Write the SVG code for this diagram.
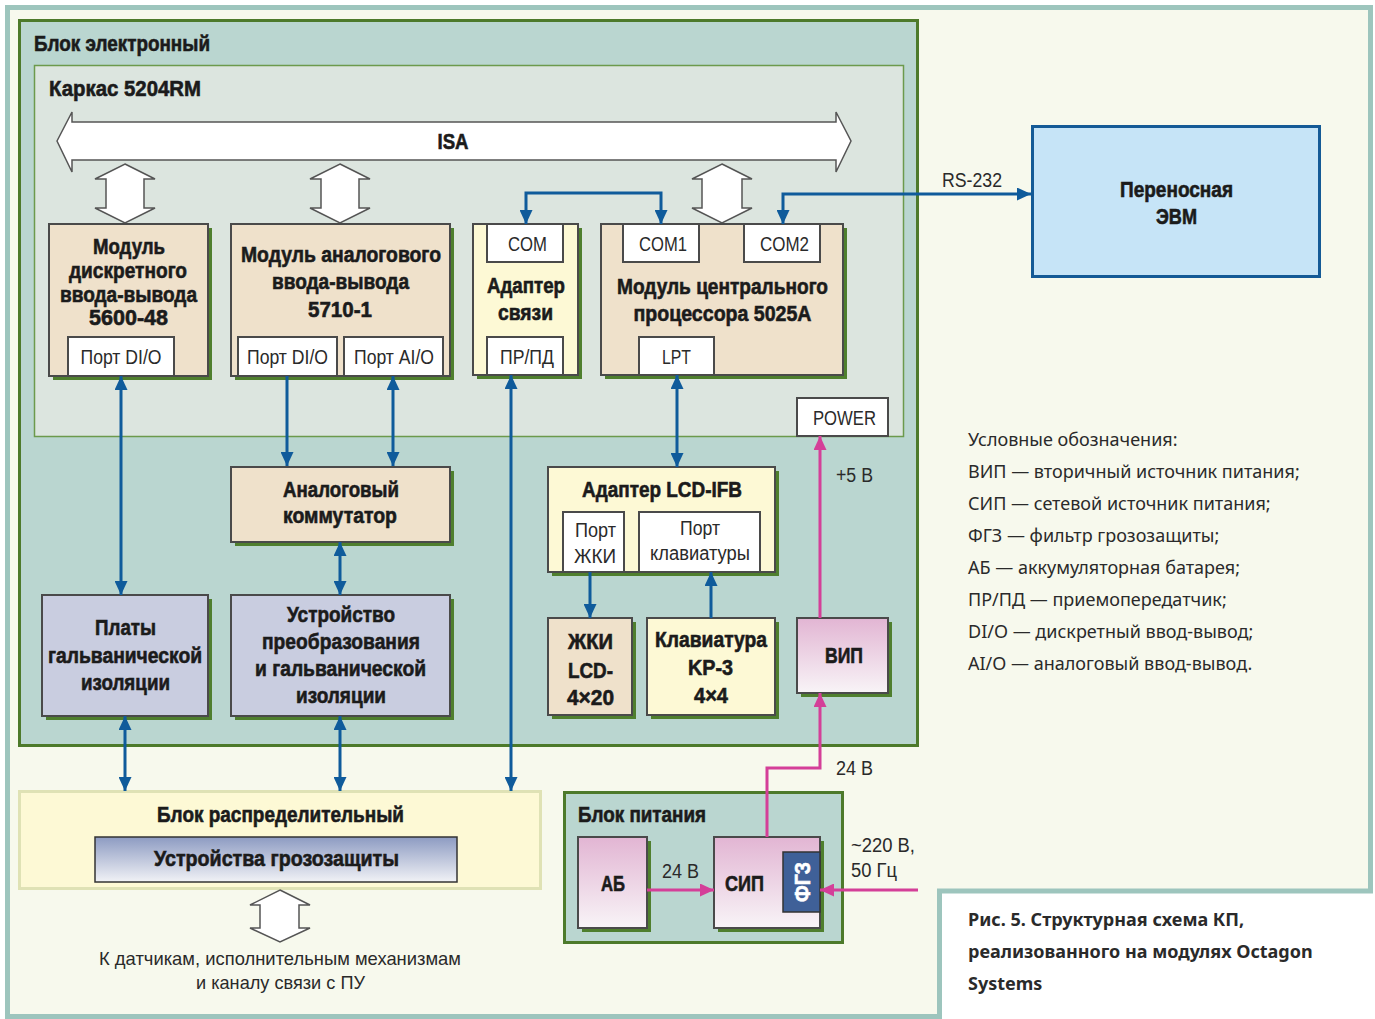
<svg xmlns="http://www.w3.org/2000/svg" width="1375" height="1019" viewBox="0 0 1375 1019">
  <defs>
    <style>
      .b { font-family: "Liberation Sans", "Arimo", sans-serif; font-weight: bold; font-size: 22px; fill: #1b1b1b; stroke: #1b1b1b; stroke-width: 0.6; text-anchor: middle; }
      .bl { text-anchor: start; }
      .r { font-family: "Liberation Sans", "Arimo", sans-serif; font-size: 20px; fill: #2a2a2a; text-anchor: middle; }
      .rl { text-anchor: start; }
      .lg { font-family: "Noto Sans", "Open Sans", sans-serif; font-size: 18px; fill: #2a2a2a; }
      .cap { font-family: "Noto Sans", "Open Sans", sans-serif; font-size: 18px; font-weight: bold; fill: #2a2a2a; }
      .sh { fill: #4f7f2e; }
      .box { stroke: #4a4a4a; stroke-width: 2; }
      .beige { fill: #efe1cb; }
      .yel { fill: #fdf9d5; }
      .lav { fill: #c9cde0; }
      .port { fill: #ffffff; stroke: #4a4a4a; stroke-width: 2; }
      .big { fill: #ffffff; stroke: #555555; stroke-width: 1.5; stroke-linejoin: miter; }
      .blue { fill: none; stroke: #0f5b9b; stroke-width: 3; }
      .mag { fill: none; stroke: #d43f98; stroke-width: 3; }
    </style>
    <marker id="ab" viewBox="0 0 14 13" refX="14" refY="6.5" markerWidth="14" markerHeight="13" markerUnits="userSpaceOnUse" orient="auto-start-reverse">
      <path d="M0,0 L14,6.5 L0,13 z" fill="#0f5b9b"/>
    </marker>
    <marker id="am" viewBox="0 0 14 13" refX="14" refY="6.5" markerWidth="14" markerHeight="13" markerUnits="userSpaceOnUse" orient="auto-start-reverse">
      <path d="M0,0 L14,6.5 L0,13 z" fill="#d43f98"/>
    </marker>
    <linearGradient id="pink" x1="0" y1="0" x2="0" y2="1">
      <stop offset="0" stop-color="#e2b5d3"/>
      <stop offset="1" stop-color="#f8f4f7"/>
    </linearGradient>
    <linearGradient id="steel" x1="0" y1="0" x2="0" y2="1">
      <stop offset="0" stop-color="#8d9bc2"/>
      <stop offset="1" stop-color="#f1f2f6"/>
    </linearGradient>
  </defs>

  <!-- page frame -->
  <rect width="1375" height="1019" fill="#ffffff"/>
  <path d="M7.5,7.5 H1370.5 V891 H939.5 V1016.5 H7.5 Z" fill="#f7f9ed" stroke="#9dc5bd" stroke-width="5"/>

  <!-- electronic unit -->
  <g id="blok-elektronnyj">
    <rect x="19.5" y="20.5" width="898" height="725" fill="#bad6d0" stroke="#4d7a2b" stroke-width="3"/>
    <text class="b bl" x="34" y="51" textLength="176" lengthAdjust="spacingAndGlyphs">Блок электронный</text>
  </g>

  <g id="karkas">
    <rect x="34.5" y="65.5" width="869" height="371" fill="#dce5df" stroke="#6c9a4c" stroke-width="1.5"/>
    <text class="b bl" x="49" y="96" textLength="152" lengthAdjust="spacingAndGlyphs">Каркас 5204RM</text>
  </g>

  <!-- ISA bus -->
  <g id="isa">
    <polygon class="big" points="57,141 72,112 72,122 836,122 836,112 851,141 836,172 836,160 72,160 72,172"/>
    <text class="b" x="453" y="149" textLength="31" lengthAdjust="spacingAndGlyphs">ISA</text>
  </g>

  <!-- bus taps -->
  <g id="bus-taps">
    <polygon class="big" points="125,164 155,179 144,179 144,208 155,208 125,223 95,208 106,208 106,179 95,179"/>
    <polygon class="big" points="340,164 370,179 359,179 359,208 370,208 340,223 310,208 321,208 321,179 310,179"/>
    <polygon class="big" points="722,164 752,179 742,179 742,208 752,208 722,223 692,208 702,208 702,179 692,179"/>
  </g>

  <!-- discrete I/O module -->
  <g id="mod-discrete">
    <rect class="sh" x="53" y="228" width="159" height="152"/>
    <rect class="box beige" x="49" y="224" width="159" height="152"/>
    <text class="b" x="129" y="254" textLength="72" lengthAdjust="spacingAndGlyphs">Модуль</text>
    <text class="b" x="128" y="278" textLength="118" lengthAdjust="spacingAndGlyphs">дискретного</text>
    <text class="b" x="128.5" y="302" textLength="137" lengthAdjust="spacingAndGlyphs">ввода-вывода</text>
    <text class="b" x="128.5" y="325" textLength="79" lengthAdjust="spacingAndGlyphs">5600-48</text>
    <rect class="port" x="68" y="337" width="106" height="39"/>
    <text class="r" x="121" y="364" textLength="81" lengthAdjust="spacingAndGlyphs">Порт DI/O</text>
  </g>

  <!-- analog I/O module -->
  <g id="mod-analog">
    <rect class="sh" x="235" y="228" width="219" height="152"/>
    <rect class="box beige" x="231" y="224" width="219" height="152"/>
    <text class="b" x="341" y="262" textLength="200" lengthAdjust="spacingAndGlyphs">Модуль аналогового</text>
    <text class="b" x="340.5" y="289" textLength="137" lengthAdjust="spacingAndGlyphs">ввода-вывода</text>
    <text class="b" x="340" y="317" textLength="64" lengthAdjust="spacingAndGlyphs">5710-1</text>
    <rect class="port" x="238" y="337" width="99" height="39"/>
    <text class="r" x="287.5" y="364" textLength="81" lengthAdjust="spacingAndGlyphs">Порт DI/O</text>
    <rect class="port" x="344" y="337" width="99" height="39"/>
    <text class="r" x="394" y="364" textLength="80" lengthAdjust="spacingAndGlyphs">Порт AI/O</text>
  </g>

  <!-- communication adapter -->
  <g id="adapter-svyazi">
    <rect class="sh" x="477" y="228" width="105" height="151"/>
    <rect class="box yel" x="473" y="224" width="105" height="151"/>
    <rect class="port" x="487" y="224" width="76" height="38"/>
    <text class="r" x="527.5" y="251" textLength="39" lengthAdjust="spacingAndGlyphs">COM</text>
    <text class="b" x="526" y="293" textLength="78" lengthAdjust="spacingAndGlyphs">Адаптер</text>
    <text class="b" x="525.5" y="320" textLength="55" lengthAdjust="spacingAndGlyphs">связи</text>
    <rect class="port" x="487" y="337" width="76" height="38"/>
    <text class="r" x="527" y="364" textLength="54" lengthAdjust="spacingAndGlyphs">ПР/ПД</text>
  </g>

  <!-- CPU module -->
  <g id="mod-cpu">
    <rect class="sh" x="605" y="228" width="242" height="151"/>
    <rect class="box beige" x="601" y="224" width="242" height="151"/>
    <rect class="port" x="623" y="224" width="76" height="38"/>
    <text class="r" x="663" y="251" textLength="48" lengthAdjust="spacingAndGlyphs">COM1</text>
    <rect class="port" x="744" y="224" width="76" height="38"/>
    <text class="r" x="784.5" y="251" textLength="49" lengthAdjust="spacingAndGlyphs">COM2</text>
    <text class="b" x="722.5" y="294" textLength="211" lengthAdjust="spacingAndGlyphs">Модуль центрального</text>
    <text class="b" x="722.5" y="321" textLength="178" lengthAdjust="spacingAndGlyphs">процессора 5025A</text>
    <rect class="port" x="639" y="337" width="75" height="38"/>
    <text class="r" x="676.5" y="364" textLength="29" lengthAdjust="spacingAndGlyphs">LPT</text>
  </g>

  <!-- power input port -->
  <g id="power">
    <rect class="port" x="797" y="398" width="91" height="38"/>
    <text class="r" x="844.5" y="425" textLength="63" lengthAdjust="spacingAndGlyphs">POWER</text>
  </g>

  <!-- portable computer -->
  <g id="pc">
    <rect x="1032.5" y="126.5" width="287" height="150" fill="#c6e4f7" stroke="#145a96" stroke-width="3"/>
    <text class="b" x="1176.5" y="197" textLength="113" lengthAdjust="spacingAndGlyphs">Переносная</text>
    <text class="b" x="1176.5" y="224" textLength="41" lengthAdjust="spacingAndGlyphs">ЭВМ</text>
  </g>

  <!-- analog switch -->
  <g id="kommutator">
    <rect class="sh" x="235" y="471" width="219" height="75"/>
    <rect class="box beige" x="231" y="467" width="219" height="75"/>
    <text class="b" x="341" y="497" textLength="116" lengthAdjust="spacingAndGlyphs">Аналоговый</text>
    <text class="b" x="340" y="523" textLength="114" lengthAdjust="spacingAndGlyphs">коммутатор</text>
  </g>

  <!-- LCD-IFB adapter -->
  <g id="lcd-ifb">
    <rect class="sh" x="552" y="471" width="227" height="105"/>
    <rect class="box yel" x="548" y="467" width="227" height="105"/>
    <text class="b" x="662" y="497" textLength="160" lengthAdjust="spacingAndGlyphs">Адаптер LCD-IFB</text>
    <rect class="port" x="563" y="512" width="61" height="60"/>
    <text class="r" x="595.5" y="537" textLength="41" lengthAdjust="spacingAndGlyphs">Порт</text>
    <text class="r" x="595" y="563" textLength="42" lengthAdjust="spacingAndGlyphs">ЖКИ</text>
    <rect class="port" x="639" y="512" width="121" height="60"/>
    <text class="r" x="700" y="535" textLength="40" lengthAdjust="spacingAndGlyphs">Порт</text>
    <text class="r" x="700" y="560" textLength="100" lengthAdjust="spacingAndGlyphs">клавиатуры</text>
  </g>

  <!-- galvanic isolation boards -->
  <g id="platy">
    <rect class="sh" x="46" y="599" width="166" height="121"/>
    <rect class="box lav" x="42" y="595" width="166" height="121"/>
    <text class="b" x="125.5" y="635" textLength="61" lengthAdjust="spacingAndGlyphs">Платы</text>
    <text class="b" x="125" y="663" textLength="154" lengthAdjust="spacingAndGlyphs">гальванической</text>
    <text class="b" x="125.5" y="690" textLength="89" lengthAdjust="spacingAndGlyphs">изоляции</text>
  </g>

  <!-- conversion and isolation device -->
  <g id="preobrazovanie">
    <rect class="sh" x="235" y="599" width="219" height="121"/>
    <rect class="box lav" x="231" y="595" width="219" height="121"/>
    <text class="b" x="341" y="622" textLength="108" lengthAdjust="spacingAndGlyphs">Устройство</text>
    <text class="b" x="341" y="649" textLength="158" lengthAdjust="spacingAndGlyphs">преобразования</text>
    <text class="b" x="340.5" y="676" textLength="171" lengthAdjust="spacingAndGlyphs">и гальванической</text>
    <text class="b" x="341" y="703" textLength="90" lengthAdjust="spacingAndGlyphs">изоляции</text>
  </g>

  <!-- LCD display -->
  <g id="lcd">
    <rect class="sh" x="552" y="622" width="84" height="97"/>
    <rect class="box beige" x="548" y="618" width="84" height="97"/>
    <text class="b" x="590.5" y="649" textLength="45" lengthAdjust="spacingAndGlyphs">ЖКИ</text>
    <text class="b" x="590.5" y="678" textLength="45" lengthAdjust="spacingAndGlyphs">LCD-</text>
    <text class="b" x="590.5" y="705" textLength="47" lengthAdjust="spacingAndGlyphs">4×20</text>
  </g>

  <!-- keypad -->
  <g id="keypad">
    <rect class="sh" x="651" y="622" width="128" height="97"/>
    <rect class="box yel" x="647" y="618" width="128" height="97"/>
    <text class="b" x="711" y="647" textLength="112" lengthAdjust="spacingAndGlyphs">Клавиатура</text>
    <text class="b" x="710.5" y="675" textLength="45" lengthAdjust="spacingAndGlyphs">KP-3</text>
    <text class="b" x="711" y="703" textLength="34" lengthAdjust="spacingAndGlyphs">4×4</text>
  </g>

  <!-- secondary power supply -->
  <g id="vip">
    <rect class="sh" x="801" y="622" width="91" height="75"/>
    <rect class="box" x="797" y="618" width="91" height="75" fill="url(#pink)"/>
    <text class="b" x="844" y="663" textLength="38" lengthAdjust="spacingAndGlyphs">ВИП</text>
  </g>

  <!-- distribution unit -->
  <g id="blok-raspred">
    <rect x="19.5" y="791.5" width="521" height="97" fill="#fdf9d5" stroke="#dfe2b5" stroke-width="3"/>
    <text class="b" x="280.5" y="822" textLength="247" lengthAdjust="spacingAndGlyphs">Блок распределительный</text>
    <rect x="95" y="837" width="362" height="45" fill="url(#steel)" stroke="#333333" stroke-width="1.5"/>
    <text class="b" x="276.5" y="866" textLength="245" lengthAdjust="spacingAndGlyphs">Устройства грозозащиты</text>
  </g>

  <!-- field link -->
  <g id="field">
    <polygon class="big" points="280,890 310,905 299,905 299,928 310,928 280,942 250,928 260,928 260,905 250,905"/>
    <text class="r" x="280" y="965" style="font-size:19px" textLength="362" lengthAdjust="spacingAndGlyphs">К датчикам, исполнительным механизмам</text>
    <text class="r" x="280.5" y="989" style="font-size:19px" textLength="169" lengthAdjust="spacingAndGlyphs">и каналу связи с ПУ</text>
  </g>

  <!-- power unit -->
  <g id="blok-pitaniya">
    <rect x="564.5" y="792.5" width="278" height="150" fill="#bad6d0" stroke="#4d7a2b" stroke-width="3"/>
    <text class="b bl" x="578" y="822" textLength="128" lengthAdjust="spacingAndGlyphs">Блок питания</text>
  </g>

  <g id="ab">
    <rect class="sh" x="582" y="841" width="69" height="91"/>
    <rect class="box" x="578" y="837" width="69" height="91" fill="url(#pink)"/>
    <text class="b" x="613" y="891" textLength="24" lengthAdjust="spacingAndGlyphs">АБ</text>
  </g>

  <g id="sip">
    <rect class="sh" x="718" y="841" width="106" height="91"/>
    <rect class="box" x="714" y="837" width="106" height="91" fill="url(#pink)"/>
    <text class="b bl" x="725" y="891" textLength="39" lengthAdjust="spacingAndGlyphs">СИП</text>
    <rect x="783" y="852" width="37" height="60" fill="#3f6098" stroke="#333333" stroke-width="1.5"/>
    <text class="b" transform="translate(802,882) rotate(-90)" x="0" y="8" style="fill:#ffffff;stroke:#ffffff" textLength="40" lengthAdjust="spacingAndGlyphs">ФГЗ</text>
  </g>

  <!-- connectors -->
  <g id="connectors">
    <path class="blue" d="M121,376 V595" marker-start="url(#ab)" marker-end="url(#ab)"/>
    <path class="blue" d="M287,376 V466" marker-end="url(#ab)"/>
    <path class="blue" d="M393,376 V466" marker-start="url(#ab)" marker-end="url(#ab)"/>
    <path class="blue" d="M340,542 V595" marker-start="url(#ab)" marker-end="url(#ab)"/>
    <path class="blue" d="M125,716 V791" marker-start="url(#ab)" marker-end="url(#ab)"/>
    <path class="blue" d="M340,716 V791" marker-start="url(#ab)" marker-end="url(#ab)"/>
    <path class="blue" d="M511,375 V791" marker-start="url(#ab)" marker-end="url(#ab)"/>
    <path class="blue" d="M526,224 V193 H661 V224" marker-start="url(#ab)" marker-end="url(#ab)"/>
    <path class="blue" d="M1031,194 H783 V224" marker-start="url(#ab)" marker-end="url(#ab)"/>
    <path class="blue" d="M677,375 V467" marker-start="url(#ab)" marker-end="url(#ab)"/>
    <path class="blue" d="M590,572 V618" marker-end="url(#ab)"/>
    <path class="blue" d="M711,618 V572" marker-end="url(#ab)"/>
    <path class="mag" d="M820,618 V436" marker-end="url(#am)"/>
    <path class="mag" d="M767,837 V768 H820 V693" marker-end="url(#am)"/>
    <path class="mag" d="M647,890 H714" marker-end="url(#am)"/>
    <path class="mag" d="M918,890 H820" marker-end="url(#am)"/>
    <text class="r rl" x="942" y="187" textLength="60" lengthAdjust="spacingAndGlyphs">RS-232</text>
    <text class="r rl" x="836" y="482" textLength="37" lengthAdjust="spacingAndGlyphs">+5 В</text>
    <text class="r rl" x="836" y="775" textLength="37" lengthAdjust="spacingAndGlyphs">24 В</text>
    <text class="r rl" x="662" y="878" textLength="37" lengthAdjust="spacingAndGlyphs">24 В</text>
    <text class="r rl" x="851" y="852" textLength="64" lengthAdjust="spacingAndGlyphs">~220 В,</text>
    <text class="r rl" x="851" y="877" textLength="46" lengthAdjust="spacingAndGlyphs">50 Гц</text>
  </g>

  <!-- legend -->
  <g id="legend">
    <text class="lg" x="968" y="446">Условные обозначения:</text>
    <text class="lg" x="968" y="478">ВИП — вторичный источник питания;</text>
    <text class="lg" x="968" y="510">СИП — сетевой источник питания;</text>
    <text class="lg" x="968" y="542">ФГЗ — фильтр грозозащиты;</text>
    <text class="lg" x="968" y="574">АБ — аккумуляторная батарея;</text>
    <text class="lg" x="968" y="606">ПР/ПД — приемопередатчик;</text>
    <text class="lg" x="968" y="638">DI/O — дискретный ввод-вывод;</text>
    <text class="lg" x="968" y="670">AI/O — аналоговый ввод-вывод.</text>
  </g>

  <!-- caption -->
  <g id="caption">
    <text class="cap" x="968" y="926">Рис. 5. Структурная схема КП,</text>
    <text class="cap" x="968" y="958">реализованного на модулях Octagon</text>
    <text class="cap" x="968" y="990">Systems</text>
  </g>
</svg>
